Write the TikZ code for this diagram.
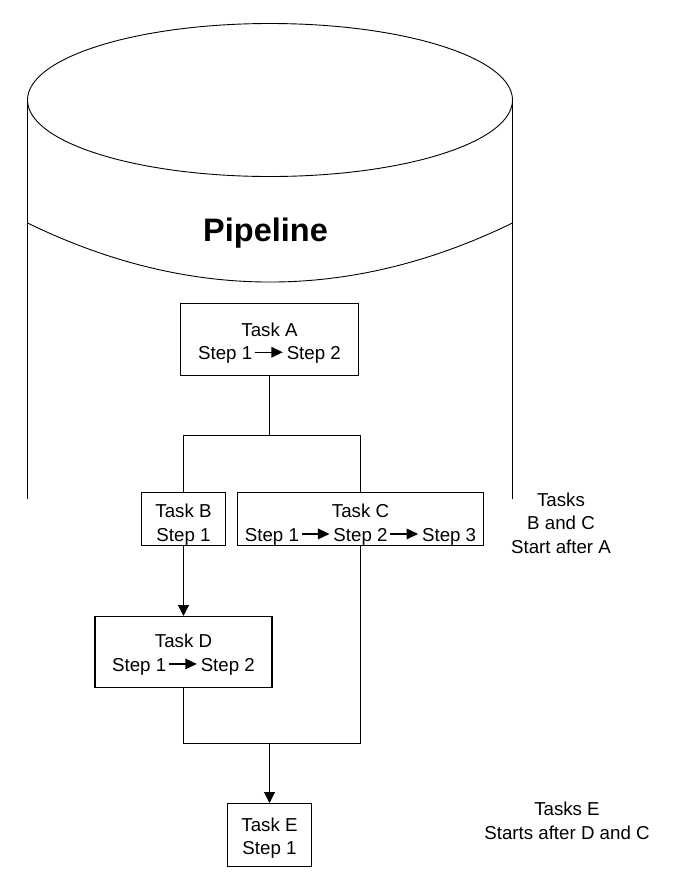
\documentclass[tikz,border=0pt]{standalone}
\usepackage{fontspec}
\setmainfont{Liberation Sans}
\usetikzlibrary{arrows.meta}

% small "step leads to step" arrow used inside the task boxes
\newcommand{\nextstep}{%
  \hspace{2.3pt}%
  \begin{pgfpicture}
    \pgfsetbaseline{0pt}
    \pgfsetlinewidth{1.1pt}
    \pgfpathmoveto{\pgfpoint{0pt}{7.3pt}}
    \pgfpathlineto{\pgfpoint{17pt}{7.3pt}}
    \pgfusepath{stroke}
    \pgfpathmoveto{\pgfpoint{16.2pt}{1.8pt}}
    \pgfpathlineto{\pgfpoint{27.7pt}{7.3pt}}
    \pgfpathlineto{\pgfpoint{16.2pt}{12.8pt}}
    \pgfpathclose
    \pgfusepath{fill}
  \end{pgfpicture}%
  \hspace{4pt}}

% centred stack of lines whose baseline is the last line
\newcommand{\tasklines}[1]{\begin{tabular}[b]{@{}c@{}}#1\end{tabular}}

\tikzset{
  outline/.style={line width=0.9pt},
  taskbox/.style={draw, line width=1.1pt, anchor=north, inner sep=0pt,
    font=\fontsize{18.7}{23.5}\selectfont},
  note/.style={anchor=base, inner sep=0pt, font=\fontsize{18.7}{23.5}\selectfont},
  link/.style={line width=1.1pt},
  flow/.style={link, -{Triangle[length=11pt,width=11pt]}},
}

\begin{document}
\begin{tikzpicture}[x=1pt, y=-1pt]
  \fill[white] (0,0) rectangle (681,887);
  \useasboundingbox (0,0) rectangle (681,887);

  % pipeline cylinder
  \draw[outline] (270,100) ellipse [x radius=242.5pt, y radius=76.5pt];
  \draw[outline] (27.5,100) -- (27.5,499);
  \draw[outline] (512.5,100) -- (512.5,499);
  \draw[outline] (27.5,223) .. controls (189.2,301.7) and (350.8,301.7) .. (512.5,223);
  \node[anchor=base, inner sep=0pt, font=\fontsize{32.5}{32.5}\selectfont\bfseries]
    (title) at (265.5,241) {Pipeline};

  % tasks
  \node[taskbox, minimum width=178pt, text height=56pt, text depth=16pt]
    (A) at (269.5,303) {\tasklines{Task A\\Step 1\nextstep Step 2}};
  \node[taskbox, minimum width=84pt, text height=48.7pt, text depth=4.3pt]
    (B) at (183.5,492) {\tasklines{Task B\\Step 1}};
  \node[taskbox, minimum width=246pt, text height=48.7pt, text depth=4.3pt]
    (C) at (360.5,492) {\tasklines{Task C\\Step 1\nextstep Step 2\nextstep Step 3}};
  \node[taskbox, minimum width=177pt, text height=54.7pt, text depth=16.3pt]
    (D) at (183.5,616) {\tasklines{Task D\\Step 1\nextstep Step 2}};
  \node[taskbox, minimum width=84pt, text height=51pt, text depth=12pt]
    (E) at (269.5,803) {\tasklines{Task E\\Step 1}};

  % notes
  \node[note] (bcnote) at (561,553) {\tasklines{Tasks\\B and C\\Start after A}};
  \node[note] (enote) at (567,839) {\tasklines{Tasks E\\Starts after D and C}};

  % dependencies
  \coordinate (split) at (269.5,435.5);
  \coordinate (join) at (269.5,743.5);
  \draw[link] (A.south) -- (split);
  \draw[link] (B.north) |- (split) -| (C.north);
  \draw[flow] (B.south) -- (D.north);
  \draw[link] (D.south) |- (join) -| (C.south);
  \draw[flow] (join) -- (E.north);
\end{tikzpicture}
\end{document}
